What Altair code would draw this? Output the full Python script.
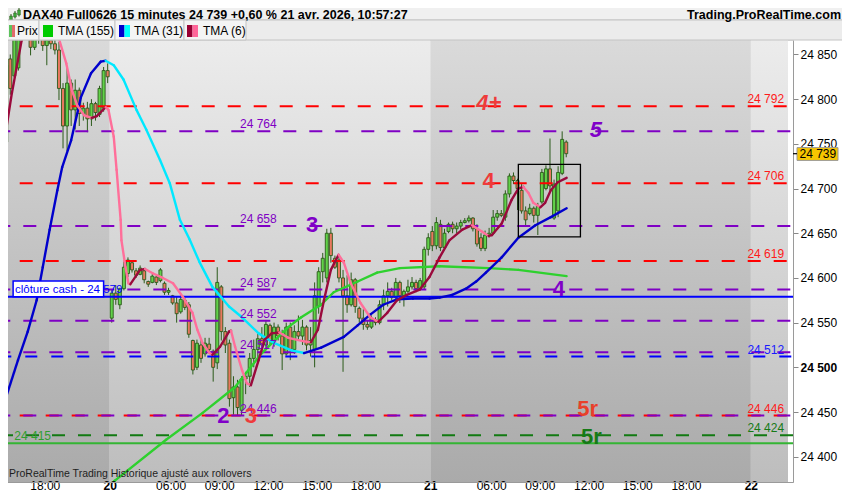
import altair as alt
import pandas as pd

# ---------------- data (15-minute bars, bar index 0 = 19 avr. 15:30) ----------------
OPEN = [
    # 19 avr.
    24752, 24845, 24826, 24835, 24878, 24890, 24880, 24858, 24878, 24870, 24860, 24866, 24862,
    24855, 24812, 24770, 24818, 24788, 24810, 24784, 24790, 24778, 24795, 24783, 24790, 24832,
    # 20 avr.
    24555, 24583, 24570, 24588, 24605, 24617, 24608, 24604, 24608, 24596, 24595, 24601, 24597,
    24594, 24584, 24580, 24572, 24562, 24575, 24570, 24530, 24500, 24525, 24515, 24526, 24518,
    24505, 24590, 24540, 24527, 24466, 24478, 24452, 24487, 24490, 24510, 24520, 24532, 24525,
    24547, 24530, 24545, 24535, 24515, 24545, 24520, 24540, 24535, 24545, 24525, 24520, 24568,
    24607, 24600, 24650, 24622, 24620, 24600, 24580, 24570, 24598, 24566, 24555, 24548, 24545,
    24553, 24550, 24570, 24580, 24585, 24578, 24595, 24580, 24585, 24590, 24595, 24588, 24590,
    24632,
    # 21 avr.
    24652, 24636, 24660, 24634, 24652, 24660, 24655, 24658, 24662, 24664, 24667, 24655, 24645,
    24633, 24648, 24650, 24668, 24672, 24668, 24694, 24714, 24709, 24698, 24675, 24672, 24678,
    24670, 24685, 24700, 24722, 24667, 24675, 24717, 24752,
]
HIGH = [
    24852, 24850, 24875, 24885, 24900, 24905, 24895, 24885, 24892, 24885, 24872, 24880, 24870,
    24864, 24818, 24836, 24822, 24822, 24813, 24796, 24797, 24800, 24797, 24815, 24836, 24840,
    24587, 24592, 24589, 24618, 24623, 24618, 24611, 24614, 24610, 24597, 24605, 24602, 24611,
    24596, 24589, 24581, 24579, 24581, 24578, 24573, 24531, 24531, 24531, 24533, 24533, 24520,
    24612, 24592, 24545, 24531, 24490, 24486, 24490, 24495, 24516, 24531, 24538, 24545, 24553,
    24549, 24550, 24548, 24542, 24550, 24550, 24547, 24558, 24553, 24547, 24545, 24595, 24612,
    24628, 24655, 24656, 24625, 24625, 24609, 24603, 24606, 24600, 24568, 24565, 24553, 24558,
    24556, 24575, 24587, 24595, 24589, 24600, 24597, 24587, 24598, 24601, 24598, 24600, 24635,
    24650,
    24658, 24668, 24665, 24655, 24662, 24663, 24662, 24665, 24667, 24670, 24668, 24660, 24650,
    24653, 24656, 24676, 24676, 24676, 24698, 24717, 24718, 24711, 24705, 24680, 24683, 24680,
    24684, 24722, 24726, 24756, 24710, 24725, 24764, 24754,
]
LOW = [
    24742, 24805, 24824, 24832, 24868, 24872, 24849, 24855, 24862, 24854, 24838, 24856, 24850,
    24799, 24745, 24742, 24770, 24766, 24770, 24776, 24763, 24770, 24776, 24780, 24786, 24818,
    24550, 24570, 24565, 24586, 24601, 24606, 24600, 24603, 24594, 24590, 24594, 24592, 24595,
    24581, 24581, 24570, 24550, 24560, 24564, 24533, 24492, 24497, 24505, 24512, 24516, 24484,
    24498, 24530, 24516, 24456, 24447, 24446, 24446, 24470, 24478, 24500, 24508, 24519, 24519,
    24525, 24523, 24530, 24497, 24513, 24508, 24515, 24530, 24525, 24519, 24512, 24500, 24560,
    24595, 24595, 24617, 24610, 24595, 24495, 24561, 24568, 24561, 24550, 24542, 24542, 24543,
    24547, 24548, 24564, 24568, 24575, 24575, 24572, 24568, 24583, 24587, 24584, 24587, 24587,
    24625,
    24630, 24632, 24630, 24632, 24650, 24650, 24650, 24654, 24661, 24662, 24652, 24635, 24630,
    24630, 24645, 24648, 24664, 24668, 24664, 24690, 24705, 24676, 24672, 24657, 24670, 24662,
    24648, 24683, 24698, 24698, 24665, 24668, 24715, 24735,
]
CLOSE = [
    24838, 24812, 24868, 24878, 24890, 24880, 24858, 24878, 24870, 24860, 24866, 24862, 24855,
    24812, 24770, 24818, 24788, 24810, 24784, 24790, 24778, 24795, 24785, 24812, 24832, 24825,
    24583, 24576, 24588, 24612, 24620, 24609, 24603, 24611, 24598, 24593, 24602, 24595, 24609,
    24584, 24586, 24572, 24560, 24576, 24567, 24537, 24497, 24527, 24510, 24527, 24520, 24500,
    24595, 24540, 24525, 24465, 24478, 24455, 24487, 24490, 24510, 24520, 24532, 24525, 24548,
    24530, 24545, 24535, 24515, 24545, 24520, 24540, 24535, 24545, 24525, 24530, 24580, 24607,
    24622, 24650, 24625, 24612, 24600, 24580, 24570, 24598, 24568, 24555, 24548, 24545, 24555,
    24550, 24570, 24580, 24585, 24578, 24595, 24580, 24585, 24590, 24595, 24588, 24597, 24632,
    24645,
    24636, 24662, 24634, 24650, 24660, 24655, 24658, 24662, 24664, 24667, 24655, 24638, 24633,
    24648, 24650, 24668, 24672, 24670, 24694, 24714, 24709, 24700, 24675, 24665, 24678, 24670,
    24680, 24718, 24722, 24703, 24705, 24718, 24755, 24739,
]

# moving averages (bar position, value)
TMA155_X = [25.2, 26.7, 39.4, 48.4, 56.4, 63.0, 69.5, 72.7, 77.6, 80.7, 86.6, 91.4, 97.0, 106.8, 118.9, 126.2, 138.1]
TMA155_Y = [24366, 24373, 24419, 24449, 24478, 24516, 24545, 24556, 24570, 24584, 24596, 24606, 24611, 24613, 24611, 24609, 24602]

TMA31_X = [-0.3, 2.9, 5.3, 7.5, 9.0, 10.7, 12.6, 13.8, 16.0, 18.4, 20.9, 23.3, 24.5, 26.5, 28.9, 32.1,
           34.5, 37.9, 40.3, 42.8, 45.2, 47.6, 50.8, 54.9, 58.1, 62.2, 66.1, 70.3, 73.4, 77.6, 83.2,
           86.6, 89.7, 92.9, 96.3, 100.2, 104.3, 106.8, 109.9, 113.3, 115.8, 118.2, 122.1, 126.2,
           130.4, 134.2, 138.1]
TMA31_Y = [24463, 24508, 24540, 24575, 24612, 24654, 24698, 24724, 24754, 24802, 24829, 24842, 24843,
           24838, 24822, 24788, 24766, 24732, 24706, 24665, 24643, 24618, 24590, 24568, 24556, 24538,
           24527, 24519, 24516, 24522, 24534, 24547, 24559, 24570, 24576, 24577, 24577, 24578, 24581,
           24588, 24596, 24606, 24623, 24645, 24659, 24668, 24678]

TMA6_X = [-0.3, 1.4, 3.8, 7.0, 10.7, 13.1, 14.8, 16.2, 17.5, 19.2, 21.1, 22.3, 24.5, 25.2, 26.5, 27.2,
          28.2, 28.4, 29.4, 30.1, 30.6, 33.0, 34.2, 36.2, 38.6, 41.1, 43.5, 45.9, 47.1, 48.4, 50.1,
          50.8, 52.7, 54.9, 55.4, 56.4, 58.1, 59.3, 60.3, 62.2, 63.7, 65.4, 67.3, 69.5, 73.4, 75.1,
          76.8, 78.3, 80.0, 81.9, 83.2, 84.9, 87.3, 89.7, 91.7, 93.9, 96.3, 98.7, 101.9, 104.3,
          106.8, 109.2, 112.4, 114.8, 117.2, 118.9, 119.7, 122.1, 124.5, 126.2, 127.4, 128.7,
          129.9, 131.6, 132.8, 134.2, 135.9, 138.1]
TMA6_Y = [24758, 24807, 24866, 24885, 24882, 24866, 24840, 24810, 24793, 24782, 24779, 24781, 24791,
          24788, 24758, 24721, 24665, 24642, 24612, 24594, 24593, 24609, 24610, 24605, 24600, 24594,
          24579, 24561, 24542, 24527, 24516, 24514, 24523, 24540, 24541, 24523, 24497, 24482, 24480,
          24508, 24531, 24538, 24539, 24533, 24529, 24528, 24542, 24575, 24609, 24626, 24617, 24594,
          24572, 24556, 24551, 24561, 24575, 24581, 24587, 24601, 24623, 24642, 24654, 24659, 24652,
          24647, 24648, 24661, 24687, 24700, 24702, 24695, 24684, 24679, 24684, 24698, 24707, 24712]

RED_LEVELS = [24792, 24706, 24619, 24446]
PURPLE_LEVELS = [24764, 24658, 24587, 24552, 24517, 24446]
BLUE_DASH_LEVELS = [24512]
GREEN_DASH_LEVELS = [24424]
CASH_CLOSE = 24579
GREEN_SOLID = 24415
LAST_PRICE = 24739

RIGHT_LABELS = ["24 792", "24 706", "24 619", "24 512", "24 446", "24 424"]
RIGHT_LABEL_Y = [24792, 24706, 24619, 24512, 24446, 24424]
RIGHT_LABEL_C = ["#ff1a1a", "#ff1a1a", "#ff1a1a", "#1a1aff", "#ff1a1a", "#167a16"]
LEFT_LABELS = ["24 764", "24 658", "24 587", "24 552", "24 517", "24 446"]
LEFT_LABEL_Y = [24764, 24658, 24587, 24552, 24517, 24446]

BIG_TEXT = ["4+", "5", "4", "3", "4", "2", "3", "5r", "5r"]
BIG_X = [118.9, 145.3, 118.9, 75.4, 136.2, 53.5, 60.3, 143.3, 144.2]
BIG_Y = [24796, 24766, 24708, 24659, 24588, 24445, 24445, 24453, 24422]
BIG_C = ["#ee3b3b", "#8000c8", "#ee3b3b", "#8000c8", "#8000c8", "#8000c8", "#ee3b3b", "#e8402a", "#167a16"]
BIG_STYLE = ["italic", "italic", "normal", "normal", "normal", "normal", "normal", "normal", "normal"]

BOX_X = [126.2, 141.5]
BOX_Y = [24727, 24646]

X_TICKS = [9.5, 25.5, 40.5, 52.5, 64.5, 76.5, 88.5, 104.5, 119.5, 131.5, 143.5, 155.5, 167.5, 183.5]
X_LABELS = ["18:00", "20", "06:00", "09:00", "12:00", "15:00", "18:00", "21",
            "06:00", "09:00", "12:00", "15:00", "18:00", "22"]
DAY_TICKS = [25.5, 104.5, 183.5]
DAY_BOUNDS = [-0.3, 25.5, 104.5, 183.5, 192.65]
DAY_SHADE = ["dark", "light", "dark", "light"]
Y_TICKS = [24400, 24450, 24500, 24550, 24600, 24650, 24700, 24750, 24800, 24850]

X_DOMAIN = [-0.3, 192.65]
Y_DOMAIN = [24371.7, 24866.2]

FONT = "Liberation Sans"

# ---------------- scales / axes ----------------
xs = alt.Scale(domain=X_DOMAIN, nice=False, zero=False)
ys = alt.Scale(domain=Y_DOMAIN, nice=False, zero=False)

x_label_expr = ("[" + ",".join("'%s'" % s for s in X_LABELS) + "][indexof(["
                + ",".join(str(v) for v in X_TICKS) + "], datum.value)]")
day_test = "indexof([" + ",".join(str(v) for v in DAY_TICKS) + "], datum.value) >= 0"

x_axis = alt.Axis(values=X_TICKS, labelExpr=x_label_expr, title=None, grid=False,
                  tickSize=0, tickOpacity=0, domainColor="#9a9a9a", labelPadding=7,
                  labelBaseline="alphabetic",
                  labelFontSize=12, labelColor="#000000", labelFont=FONT, labelFlush=False,
                  labelOverlap=False, zindex=1,
                  labelFontWeight={"condition": {"test": day_test, "value": "bold"}, "value": "normal"})
y_axis = alt.Axis(orient="right", values=Y_TICKS, title=None, grid=False,
                  labelExpr="replace(format(datum.value, ','), ',', ' ')",
                  tickSize=5, tickColor="#888888", domainColor="#9a9a9a", labelPadding=2,
                  labelFontSize=12, labelColor="#000000", labelFont=FONT, labelOverlap=False,
                  zindex=0,
                  labelFontWeight={"condition": {"test": "datum.value == 24500", "value": "bold"},
                                   "value": "normal"})

# ---------------- background day bands ----------------
bands = pd.DataFrame({
    "x0": DAY_BOUNDS[:-1], "x1": DAY_BOUNDS[1:],
    "y0": [Y_DOMAIN[0]] * 4, "y1": [Y_DOMAIN[1]] * 4, "shade": DAY_SHADE,
})


def grad(top, bottom):
    return alt.Gradient(gradient="linear", x1=0, x2=0, y1=0, y2=1,
                        stops=[alt.GradientStop(color=top, offset=0),
                               alt.GradientStop(color=bottom, offset=1)])


band_light = alt.Chart(bands[bands.shade == "light"]).mark_rect(
    fill=grad("#ececec", "#bdbdbd"), strokeWidth=0).encode(
    x=alt.X("x0:Q", scale=xs, axis=x_axis), x2="x1:Q",
    y=alt.Y("y0:Q", scale=ys, axis=y_axis), y2="y1:Q")
band_dark = alt.Chart(bands[bands.shade == "dark"]).mark_rect(
    fill=grad("#dadada", "#aaaaaa"), strokeWidth=0).encode(
    x=alt.X("x0:Q", scale=xs), x2="x1:Q", y=alt.Y("y0:Q", scale=ys), y2="y1:Q")

# ---------------- level lines ----------------


def levels(vals, color, dash=None, offset=0, width=2):
    kw = dict(color=color, strokeWidth=width, clip=True)
    if dash:
        kw["strokeDash"] = dash
        kw["strokeDashOffset"] = offset
    return alt.Chart(pd.DataFrame({"p": vals})).mark_rule(**kw).encode(
        y=alt.Y("p:Q", scale=ys))


lv_red = levels(RED_LEVELS, "#ff0000", [13, 13], 19.7)
lv_purple = levels(PURPLE_LEVELS, "#7f00c4", [13, 13], 23.3)
lv_blue = levels(BLUE_DASH_LEVELS, "#0000ff", [12, 14], 24.3)
lv_green = levels(GREEN_DASH_LEVELS, "#127a12", [13, 13], 0)
lv_cash = levels([CASH_CLOSE], "#0000ff")
lv_gsolid = levels([GREEN_SOLID], "#33b533")

# ---------------- candles ----------------
cd = pd.DataFrame({"k": list(range(len(OPEN))), "o": OPEN, "h": HIGH, "l": LOW, "c": CLOSE})
cd["fill"] = ["#62d24a" if c >= o else "#e9785f" for o, c in zip(OPEN, CLOSE)]

wicks = alt.Chart(cd).mark_rule(color="#2b5a1a", strokeWidth=1, clip=True).encode(
    x=alt.X("k:Q", scale=xs), y=alt.Y("l:Q", scale=ys), y2="h:Q")
bodies = alt.Chart(cd).mark_bar(size=3, stroke="#2b5a1a", strokeWidth=0.9, clip=True).encode(
    x=alt.X("k:Q", scale=xs), y=alt.Y("o:Q", scale=ys), y2="c:Q",
    fill=alt.Fill("fill:N", scale=None))

# ---------------- moving averages ----------------


def ma_layer(xv, yv, up, down, width=2.4):
    rows = []
    for i in range(len(xv) - 1):
        rows.append({"x": xv[i], "y": yv[i], "x2": xv[i + 1], "y2": yv[i + 1],
                     "c": up if yv[i + 1] >= yv[i] else down})
    return alt.Chart(pd.DataFrame(rows)).mark_rule(
        strokeWidth=width, strokeCap="round", clip=True).encode(
        x=alt.X("x:Q", scale=xs), y=alt.Y("y:Q", scale=ys), x2="x2:Q", y2="y2:Q",
        color=alt.Color("c:N", scale=None))


ma155 = ma_layer(TMA155_X, TMA155_Y, "#2ed12e", "#2ed12e")
ma31 = ma_layer(TMA31_X, TMA31_Y, "#0000cc", "#00e8ff")
ma6 = ma_layer(TMA6_X, TMA6_Y, "#9a0a3c", "#ff6f9a")

# ---------------- labels ----------------
right_df = pd.DataFrame({"k": [191.7] * len(RIGHT_LABELS), "p": RIGHT_LABEL_Y,
                         "t": RIGHT_LABELS, "c": RIGHT_LABEL_C})
right_txt = alt.Chart(right_df).mark_text(align="right", baseline="alphabetic", dy=-3,
                                          fontSize=12, font=FONT).encode(
    x=alt.X("k:Q", scale=xs), y=alt.Y("p:Q", scale=ys), text="t:N",
    color=alt.Color("c:N", scale=None))

left_df = pd.DataFrame({"k": [57.6] * len(LEFT_LABELS), "p": LEFT_LABEL_Y, "t": LEFT_LABELS})
left_txt = alt.Chart(left_df).mark_text(align="left", baseline="alphabetic", dy=-3,
                                        fontSize=12, font=FONT, color="#7f00c4").encode(
    x=alt.X("k:Q", scale=xs), y=alt.Y("p:Q", scale=ys), text="t:N")

g415 = alt.Chart(pd.DataFrame({"k": [2.0], "p": [GREEN_SOLID], "t": ["24 415"]})).mark_text(
    align="left", baseline="alphabetic", dy=-3, fontSize=12, font=FONT, color="#2f9e2f").encode(
    x=alt.X("k:Q", scale=xs), y=alt.Y("p:Q", scale=ys), text="t:N")

big_layers = []
for style in ["italic", "normal"]:
    sel = [i for i, s in enumerate(BIG_STYLE) if s == style]
    bdf = pd.DataFrame({"k": [BIG_X[i] for i in sel], "p": [BIG_Y[i] for i in sel],
                        "t": [BIG_TEXT[i] for i in sel], "c": [BIG_C[i] for i in sel]})
    big_layers.append(alt.Chart(bdf).mark_text(
        align="center", baseline="middle", fontSize=22, fontWeight="bold", fontStyle=style,
        font=FONT).encode(
        x=alt.X("k:Q", scale=xs), y=alt.Y("p:Q", scale=ys), text="t:N",
        color=alt.Color("c:N", scale=None)))

box = alt.Chart(pd.DataFrame({"x0": [BOX_X[0]], "x1": [BOX_X[1]], "y0": [BOX_Y[0]], "y1": [BOX_Y[1]]})).mark_rect(
    fill="transparent", stroke="#000000", strokeWidth=1.3).encode(
    x=alt.X("x0:Q", scale=xs), x2="x1:Q", y=alt.Y("y0:Q", scale=ys), y2="y1:Q")

one = pd.DataFrame({"a": [0]})

cash_box = alt.Chart(one).mark_rect(fill="#ffffff", stroke="#0000ff", strokeWidth=1.5).encode(
    x=alt.X(datum=1.7, scale=xs), x2=alt.datum(24.0),
    y=alt.Y(datum=CASH_CLOSE, scale=ys), y2=alt.datum(CASH_CLOSE + 17.5))
cash_txt = alt.Chart(one).mark_text(align="left", baseline="alphabetic", dy=-4, fontSize=11.5,
                                    font=FONT, color="#0000ff", text="clôture cash -  24 579").encode(
    x=alt.X(datum=2.15, scale=xs), y=alt.Y(datum=CASH_CLOSE, scale=ys))

price_box = alt.Chart(one).mark_rect(fill="#f7c600", stroke="#9a9a9a", strokeWidth=1).encode(
    x=alt.value(797), x2=alt.value(838),
    y=alt.Y(datum=LAST_PRICE + 6.8, scale=ys), y2=alt.datum(LAST_PRICE - 7.5))
price_tick = alt.Chart(one).mark_rule(color="#000000", strokeWidth=1.2).encode(
    x=alt.value(793), x2=alt.value(797), y=alt.Y(datum=LAST_PRICE, scale=ys))
price_txt = alt.Chart(one).mark_text(align="left", baseline="middle", fontSize=12, font=FONT,
                                     color="#000000", text="24 739").encode(
    x=alt.value(799.5), y=alt.Y(datum=LAST_PRICE, scale=ys))

foot = alt.Chart(one).mark_text(align="left", baseline="middle", fontSize=10.5, font=FONT,
                                color="#1e1e1e",
                                text="ProRealTime Trading  Historique ajusté aux rollovers").encode(
    x=alt.value(9), y=alt.value(434))

# ---------------- header (title bar + legend strip) ----------------
header = [
    alt.Chart(one).mark_rect(fill="#f0f0f0", stroke="#c4c4c4", strokeWidth=1).encode(
        x=alt.value(6), x2=alt.value(845), y=alt.value(-44), y2=alt.value(-20)),
    alt.Chart(one).mark_rect(fill="#ececec", stroke="#c4c4c4", strokeWidth=1).encode(
        x=alt.value(6), x2=alt.value(845), y=alt.value(-20), y2=alt.value(0)),
    alt.Chart(one).mark_text(align="left", baseline="middle", fontSize=12.5, fontWeight="bold",
                             font=FONT, color="#000000",
                             text="DAX40 Full0626 15 minutes 24 739 +0,60 % 21 avr. 2026, 10:57:27").encode(
        x=alt.value(23), y=alt.value(-25.5)),
    alt.Chart(one).mark_text(align="right", baseline="middle", fontSize=12.5, fontWeight="bold",
                             font=FONT, color="#000000", text="Trading.ProRealTime.com").encode(
        x=alt.value(841), y=alt.value(-25.5)),
]
# small candlestick icon
for ix, (a, b) in enumerate([(16, 20), (13, 17), (10, 15)]):
    xpos = 11 + ix * 4
    header.append(alt.Chart(one).mark_rule(color="#2b5a1a", strokeWidth=1).encode(
        x=alt.value(xpos), y=alt.value(-40 + a - 2), y2=alt.value(-40 + b + 1.5)))
    header.append(alt.Chart(one).mark_rect(fill="#3fb03f", stroke="#2b5a1a", strokeWidth=0.6).encode(
        x=alt.value(xpos - 1.3), x2=alt.value(xpos + 1.3), y=alt.value(-40 + a), y2=alt.value(-40 + b)))

cells = [(6, 39), (39, 115), (115, 184), (184, 246)]
for c0, c1 in cells:
    header.append(alt.Chart(one).mark_rect(fill="#f4f4f4", stroke="#c4c4c4", strokeWidth=1).encode(
        x=alt.value(c0), x2=alt.value(c1), y=alt.value(-20), y2=alt.value(0)))
swatches = [(9, 12, "#5cc25c"), (12, 15, "#e26b6b"), (43, 53, "#00cc00"),
            (119, 124.5, "#0000cc"), (124.5, 130, "#00ffff"),
            (187, 192.5, "#990033"), (192.5, 198, "#ff6699")]
for s0, s1, col in swatches:
    header.append(alt.Chart(one).mark_rect(fill=col).encode(
        x=alt.value(s0), x2=alt.value(s1), y=alt.value(-15), y2=alt.value(-3)))
for tx, txt in [(17, "Prix"), (58, "TMA (155)"), (134, "TMA (31)"), (203, "TMA (6)")]:
    header.append(alt.Chart(one).mark_text(align="left", baseline="middle", fontSize=12,
                                           font=FONT, color="#000000", text=txt).encode(
        x=alt.value(tx), y=alt.value(-9)))

chart = alt.layer(
    band_light, band_dark,
    wicks, bodies,
    lv_red, lv_purple, lv_blue, lv_green, lv_gsolid, lv_cash,
    ma155, ma31, ma6,
    left_txt, right_txt, g415, *big_layers, box,
    cash_box, cash_txt, price_box, price_tick, price_txt, foot,
    *header,
).properties(
    width=793, height=442,
    padding={"left": -8, "top": 32, "right": 49, "bottom": 10},
    autosize=alt.AutoSizeParams(type="none"),
    background="#ffffff",
).configure_view(strokeWidth=0).configure(font=FONT)

chart.save("out.html", embed_options={"renderer": "svg", "actions": False})
